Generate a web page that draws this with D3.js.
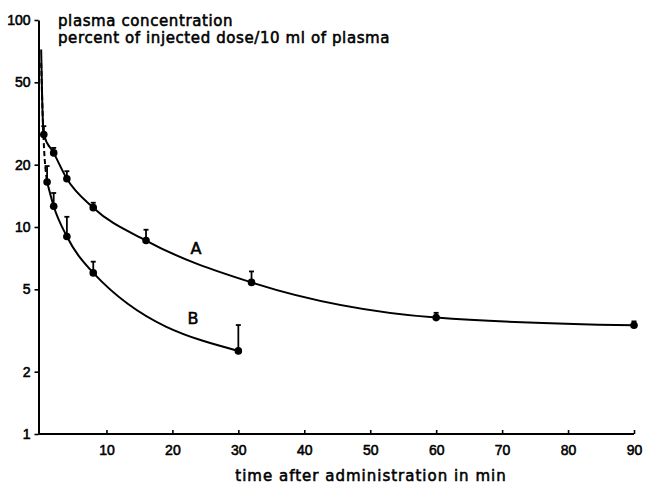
<!DOCTYPE html>
<html>
<head>
<meta charset="utf-8">
<script src="https://cdn.jsdelivr.net/npm/d3@7"></script>
<style>
  body { margin: 0; background: #fff; }
  svg { font-family: "DejaVu Sans", sans-serif; }
  .heavy { stroke: #000; stroke-width: 0.55; }
</style>
</head>
<body>
<svg id="chart" width="647" height="490"></svg>
<script>
// curve A (measured points)
const timeA = [0.5, 2, 4, 8, 16, 32, 60, 90]
const concA = [28, 22.8, 17.1, 12.4, 8.6, 5.4, 3.65, 3.35]
const errA = [30.7, 24.1, 18.6, 13.1, 9.7, 6.1, 3.85, 3.5]
// steep start of A near the axis
const leadTimeA = [0.1, 0.25]
const leadConcA = [72, 42]

// curve B
const timeB = [1, 2, 4, 8, 30]
const concB = [16.5, 12.6, 9.0, 6.0, 2.52]
const errB = [19.7, 14.6, 11.2, 6.8, 3.36]
// dashed start of B
const dashTimeB = [0.1, 0.4, 1]
const dashConcB = [62, 30, 16.5]

const xTicks = [10, 20, 30, 40, 50, 60, 70, 80, 90]
const yTicks = [1, 2, 5, 10, 20, 50, 100]

const svg = d3.select('#chart')

const x = d3.scaleLinear().domain([0, 90]).range([40.5, 634])
const y = d3.scaleLog().domain([1, 100]).range([434, 20])

const ink = '#000'

const g = svg.append('g')

// axes
const xAxis = d3.axisBottom(x).tickValues(xTicks).tickSize(-4).tickSizeOuter(0).tickPadding(10)
const ax = g.append('g').attr('transform', `translate(0,${y(1)})`).call(xAxis)
ax.select('.domain').attr('d', `M${x(0) - 2},0H${x(90)}`).attr('stroke-width', 2)

const yAxis = d3.axisLeft(y).tickValues(yTicks).tickFormat(d3.format('d')).tickSize(4).tickSizeOuter(0).tickPadding(4)
const ay = g.append('g').attr('transform', `translate(${x(0) - 2},0)`).call(yAxis)
ay.select('.domain').attr('stroke-width', 2)

svg.selectAll('.tick text').attr('font-size', 14).attr('fill', ink).attr('class', 'heavy')
svg.selectAll('.tick line').attr('stroke-width', 1.6)
ax.selectAll('.tick text').attr('dy', '0.8em')

const line = d3.line()
  .x(d => x(d[0]))
  .y(d => y(d[1]))
  .curve(d3.curveMonotoneX)

const ptsA = d3.zip(leadTimeA.concat(timeA), leadConcA.concat(concA))
const ptsB = d3.zip(timeB, concB)
const dashB = d3.zip(dashTimeB, dashConcB)

g.append('path').datum(ptsA).attr('d', line)
  .attr('fill', 'none').attr('stroke', ink).attr('stroke-width', 2)
g.append('path').datum(ptsB).attr('d', line)
  .attr('fill', 'none').attr('stroke', ink).attr('stroke-width', 2)
g.append('path').datum(dashB).attr('d', line)
  .attr('fill', 'none').attr('stroke', ink).attr('stroke-width', 2)
  .attr('stroke-dasharray', '5,3')

function drawPoints(times, concs, errs) {
  const data = d3.zip(times, concs, errs)
  const grp = g.append('g')
  grp.selectAll('line.err').data(data).enter().append('line')
    .attr('class', 'err')
    .attr('x1', d => x(d[0])).attr('x2', d => x(d[0]))
    .attr('y1', d => y(d[1])).attr('y2', d => y(d[2]))
    .attr('stroke', ink).attr('stroke-width', 1.8)
  grp.selectAll('line.cap').data(data).enter().append('line')
    .attr('class', 'cap')
    .attr('x1', d => x(d[0]) - 2.5).attr('x2', d => x(d[0]) + 2.5)
    .attr('y1', d => y(d[2])).attr('y2', d => y(d[2]))
    .attr('stroke', ink).attr('stroke-width', 1.8)
  grp.selectAll('circle').data(data).enter().append('circle')
    .attr('cx', d => x(d[0])).attr('cy', d => y(d[1]))
    .attr('r', 3.8).attr('fill', ink)
}

drawPoints(timeA, concA, errA)
drawPoints(timeB, concB, errB)

// curve labels
g.append('text').attr('class', 'heavy').attr('x', 196).attr('y', 254).attr('text-anchor', 'middle')
  .attr('font-size', 16).text('A')
g.append('text').attr('class', 'heavy').attr('x', 193).attr('y', 324).attr('text-anchor', 'middle')
  .attr('font-size', 16).text('B')

// y title
g.append('text').attr('class', 'heavy').attr('x', 58).attr('y', 26).attr('font-size', 15)
  .attr('letter-spacing', 0.6).text('plasma  concentration')
g.append('text').attr('class', 'heavy').attr('x', 58).attr('y', 43).attr('font-size', 15)
  .attr('letter-spacing', 0.6).text('percent of injected dose/10 ml of plasma')

// x title
g.append('text').attr('class', 'heavy').attr('x', 371).attr('y', 481).attr('text-anchor', 'middle')
  .attr('font-size', 15).attr('letter-spacing', 1).text('time after administration in min')
</script>
</body>
</html>
